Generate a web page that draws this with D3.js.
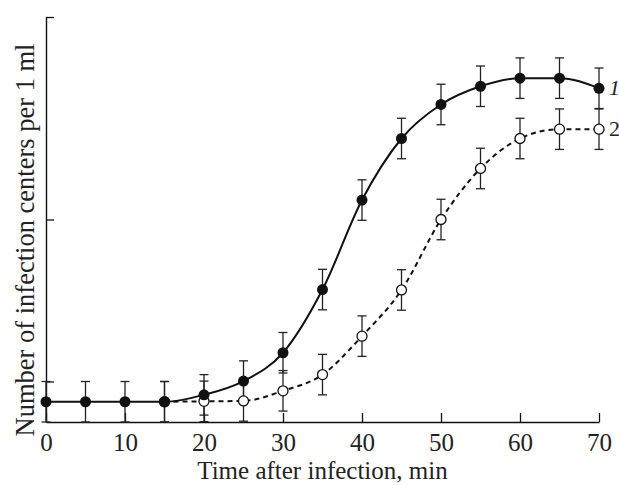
<!DOCTYPE html>
<html>
<head>
<meta charset="utf-8">
<script src="https://cdn.jsdelivr.net/npm/d3@7"></script>
<style>
  html, body { margin: 0; padding: 0; background: #fff; }
  #chart { width: 619px; height: 485px; }
</style>
</head>
<body>
<div id="chart"></div>
<script>
var times = [0, 5, 10, 15, 20, 25, 30, 35, 40, 45, 50, 55, 60, 65, 70];
var series1 = [5.0, 5.0, 5.0, 5.0, 6.7, 10.1, 17.1, 32.7, 54.8, 70.0, 78.4, 82.9, 84.9, 84.9, 82.4];
var times2 = [15, 20, 25, 30, 35, 40, 45, 50, 55, 60, 65, 70];
var series2 = [5.0, 5.1, 5.2, 7.7, 11.7, 21.2, 32.6, 50.0, 62.6, 70.0, 72.3, 72.3];
var errorBar = 5;
var xTicks = [0, 10, 20, 30, 40, 50, 60, 70];
var yTicks = [10, 50, 100];
var seriesLabels = ['1', '2'];

(function() {
  var FONT = '"Liberation Serif", "Times New Roman", Times, serif';
  var container = document.getElementById('chart');
  var w = 619, h = 485;
  var margin = { top: 17, right: 20, bottom: 63, left: 46 };
  var iw = w - margin.left - margin.right;
  var ih = h - margin.top - margin.bottom;

  var svg = d3.select(container).append('svg').attr('width', w).attr('height', h);
  var g = svg.append('g').attr('transform', 'translate(' + margin.left + ',' + margin.top + ')');

  var xScale = d3.scaleLinear().domain([0, 70]).range([0, iw]);
  var yScale = d3.scaleLinear().domain([0, 100]).range([ih, 0]);

  var d1 = times.map(function(t, i) { return { x: t, y: series1[i] }; });
  var d2 = times2.map(function(t, i) { return { x: t, y: series2[i] }; });

  // Axes
  g.append('g').attr('transform', 'translate(0,' + ih + ')')
    .call(d3.axisBottom(xScale).tickValues(xTicks).tickSizeInner(-9).tickSizeOuter(0))
    .call(function(a) { a.select('.domain').attr('stroke', '#111').attr('stroke-width', 1.4); })
    .call(function(a) { a.selectAll('.tick line').attr('stroke', '#111').attr('stroke-width', 1.3); })
    .call(function(a) {
      a.selectAll('.tick text').attr('y', 29).attr('dy', 0).attr('fill', '#222')
        .attr('font-size', '25px').attr('font-family', FONT);
    });

  g.append('g')
    .call(d3.axisLeft(yScale).tickValues(yTicks).tickFormat('').tickSizeInner(-8).tickSizeOuter(0))
    .call(function(a) { a.select('.domain').attr('stroke', '#111').attr('stroke-width', 1.4); })
    .call(function(a) { a.selectAll('.tick line').attr('stroke', '#111').attr('stroke-width', 1.3); });

  // Axis labels
  svg.append('text').attr('x', margin.left + iw / 2).attr('y', h - 6)
    .attr('text-anchor', 'middle').attr('fill', '#222').attr('font-size', '25px').attr('font-family', FONT)
    .text('Time after infection, min');
  svg.append('text').attr('transform', 'rotate(-90)').attr('x', -240).attr('y', 34)
    .attr('text-anchor', 'middle').attr('fill', '#222').attr('font-size', '26.5px').attr('font-family', FONT)
    .text('Number of infection centers per 1 ml');

  // Error bars
  function bars(data) {
    var eg = g.append('g').attr('stroke', '#222').attr('stroke-width', 1.3);
    data.forEach(function(d) {
      var cx = xScale(d.x);
      var y0 = yScale(Math.max(0, d.y - errorBar)), y1 = yScale(d.y + errorBar);
      eg.append('line').attr('x1', cx).attr('x2', cx).attr('y1', y0).attr('y2', y1);
      eg.append('line').attr('x1', cx - 4.5).attr('x2', cx + 4.5).attr('y1', y1).attr('y2', y1);
      eg.append('line').attr('x1', cx - 4.5).attr('x2', cx + 4.5).attr('y1', y0).attr('y2', y0);
    });
  }
  bars(d2);
  bars(d1);

  // Lines
  var line = d3.line().x(function(d) { return xScale(d.x); }).y(function(d) { return yScale(d.y); })
    .curve(d3.curveMonotoneX);
  g.append('path').datum(d2).attr('d', line).attr('fill', 'none')
    .attr('stroke', '#111').attr('stroke-width', 2).attr('stroke-dasharray', '5,4');
  g.append('path').datum(d1).attr('d', line).attr('fill', 'none')
    .attr('stroke', '#111').attr('stroke-width', 2);

  // Markers
  g.selectAll('circle.open').data(d2).join('circle').attr('class', 'open')
    .attr('cx', function(d) { return xScale(d.x); })
    .attr('cy', function(d) { return yScale(d.y); })
    .attr('r', 5).attr('fill', '#fff').attr('stroke', '#111').attr('stroke-width', 1.3);
  g.selectAll('circle.filled').data(d1).join('circle').attr('class', 'filled')
    .attr('cx', function(d) { return xScale(d.x); })
    .attr('cy', function(d) { return yScale(d.y); })
    .attr('r', 5.5).attr('fill', '#111');

  // Series labels
  [d1, d2].forEach(function(d, i) {
    var last = d[d.length - 1];
    g.append('text').attr('x', xScale(last.x) + 10).attr('y', yScale(last.y) + 7)
      .attr('fill', '#222').attr('font-size', '22px').attr('font-family', FONT)
      .attr('font-style', i === 0 ? 'italic' : 'normal')
      .text(seriesLabels[i]);
  });
})();
</script>
</body>
</html>
